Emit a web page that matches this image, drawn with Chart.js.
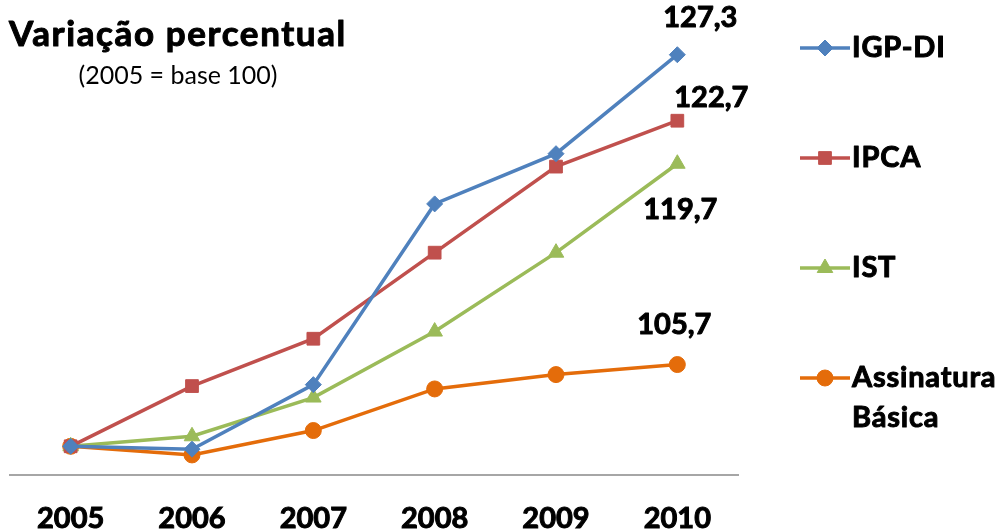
<!DOCTYPE html>
<html><head><meta charset="utf-8">
<script src="https://cdn.jsdelivr.net/npm/chart.js@4"></script>
<style>html,body{margin:0;padding:0;background:#fff;} canvas{display:block}</style>
</head><body>
<canvas id="c" width="1004" height="530"></canvas>
<script>
const years = ['2005','2006','2007','2008','2009','2010'];
const igpdi = [100, 99.8, 104.3, 116.9, 120.4, 127.3];
const ipca = [100, 104.2, 107.5, 113.5, 119.5, 122.7];
const ist = [100, 100.7, 103.4, 108.0, 113.5, 119.7];
const assinatura = [100, 99.4, 101.1, 104.0, 105.0, 105.7];
const seriesNames = ['IGP-DI', 'IPCA', 'IST', ['Assinatura', 'Básica']];
const titleText = 'Variação percentual';
const subtitleText = '(2005 = base 100)';

const colors = ['#4F81BD', '#C0504D', '#9BBB59', '#E46C0A'];
const styles = ['rectRot', 'rect', 'triangle', 'circle'];
const radii = [8, 9, 9, 8];
const labelOffsets = [[23, -37], [34, -23], [3, 46], [-3, -40]];
const legendY = [[48], [158], [268], [378, 418]];
const FONT = 'Lato, "Open Sans", sans-serif';

const dataSets = [igpdi, ipca, ist, assinatura].map((d, i) => ({
  label: Array.isArray(seriesNames[i]) ? seriesNames[i].join(' ') : seriesNames[i],
  data: d,
  borderColor: colors[i],
  backgroundColor: colors[i],
  borderWidth: 3.5,
  pointStyle: styles[i],
  pointRadius: radii[i],
  pointHoverRadius: radii[i],
  pointBorderWidth: 1,
  tension: 0,
  clip: false
}));

function boldText(ctx, t, x, y) {
  ctx.strokeText(t, x, y);
  ctx.fillText(t, x, y);
}

const extras = {
  id: 'extras',
  afterDraw(chart) {
    const ctx = chart.ctx;
    ctx.save();
    ctx.fillStyle = '#000';
    ctx.strokeStyle = '#000';
    ctx.lineWidth = 1;
    ctx.lineJoin = 'round';
    ctx.textBaseline = 'middle';
    // title
    ctx.textAlign = 'left';
    ctx.font = 'bold 35px ' + FONT;
    ctx.letterSpacing = '1.6px';
    boldText(ctx, titleText, 9, 35);
    ctx.letterSpacing = '0px';
    ctx.font = '25px ' + FONT;
    ctx.textAlign = 'center';
    ctx.fillText(subtitleText, 178, 76);
    // end labels
    ctx.font = 'bold 29px ' + FONT;
    chart.data.datasets.forEach((ds, i) => {
      const meta = chart.getDatasetMeta(i);
      const last = meta.data[meta.data.length - 1];
      const v = ds.data[ds.data.length - 1];
      ctx.strokeStyle = '#000';
      ctx.lineWidth = 1;
      boldText(ctx, v.toFixed(1).replace('.', ','), last.x + labelOffsets[i][0], last.y + labelOffsets[i][1]);
    });
    // legend
    ctx.textAlign = 'left';
    ctx.font = 'bold 29px ' + FONT;
    chart.data.datasets.forEach((ds, i) => {
      const y = legendY[i][0];
      ctx.strokeStyle = colors[i];
      ctx.lineWidth = 3.5;
      ctx.beginPath();
      ctx.moveTo(800, y);
      ctx.lineTo(850, y);
      ctx.stroke();
      ctx.fillStyle = colors[i];
      ctx.lineWidth = 1;
      Chart.helpers.drawPoint(ctx, {pointStyle: styles[i], radius: radii[i], rotation: 0, borderWidth: 1}, 825, y);
      ctx.fillStyle = '#000';
      ctx.strokeStyle = '#000';
      ctx.lineWidth = 1;
      ctx.letterSpacing = '0.8px';
      const lines = Array.isArray(seriesNames[i]) ? seriesNames[i] : [seriesNames[i]];
      lines.forEach((t, j) => boldText(ctx, t, 852, legendY[i][j]));
      ctx.letterSpacing = '0px';
    });
    ctx.restore();
  }
};

new Chart(document.getElementById('c'), {
  type: 'line',
  data: { labels: years, datasets: dataSets },
  options: {
    responsive: false,
    animation: false,
    layout: { padding: { left: 8, right: 266, top: 16, bottom: 0 } },
    plugins: { legend: { display: false }, tooltip: { enabled: false }, title: { display: false } },
    scales: {
      x: {
        offset: true,
        grid: { display: false, drawTicks: false },
        border: { display: true, color: '#A6A6A6', width: 2 },
        ticks: { color: '#000', font: { family: FONT, size: 29, weight: 'bold' }, padding: 26, maxRotation: 0,
                 textStrokeWidth: 1, textStrokeColor: '#000' },
        afterFit: (s) => { s.height = 55; }
      },
      y: { display: false, min: 98, max: 130 }
    }
  },
  plugins: [extras]
});
</script>
</body></html>
